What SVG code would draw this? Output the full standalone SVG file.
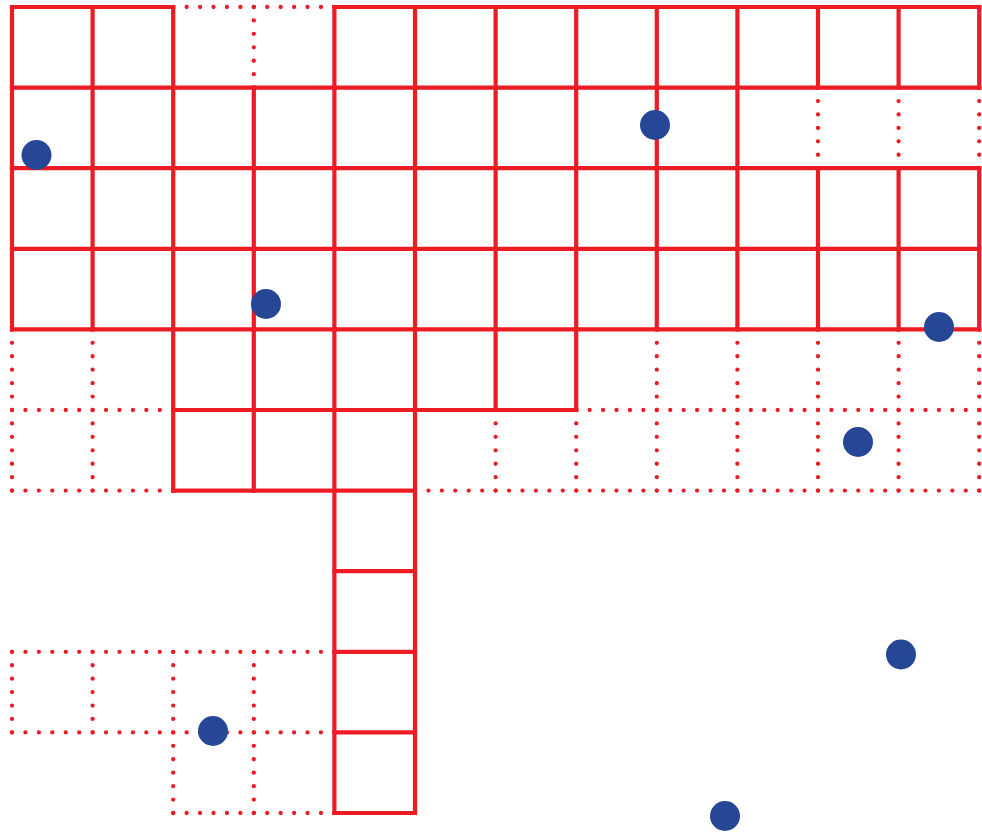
<svg xmlns="http://www.w3.org/2000/svg" width="982" height="832" viewBox="0 0 982 832">
<style>
.s{stroke:#ED1C24;stroke-width:4.2;fill:none;stroke-linecap:square}
.d{stroke:#ED1C24;stroke-width:4.3;fill:none;stroke-linecap:round;stroke-dasharray:0 13.433}
.p{fill:#264796}
</style>
<rect width="982" height="832" fill="#fff"/>
<g id="dotted-grid">
<path class="d" d="M173.2 7H334.4M12 410H173.2M576.2 410H979.2M12 490.6H173.2M415 490.6H979.2M12 651.8H334.4M12 732.4H334.4M173.2 813H334.4"/>
<path class="d" d="M12 329.4V490.6M12 651.8V732.4M92.6 329.4V490.6M92.6 651.8V732.4M173.2 651.8V813M253.8 7V87.6M253.8 651.8V813M495.6 410V490.6M576.2 410V490.6M656.8 329.4V490.6M737.4 329.4V490.6M818 329.4V490.6M898.6 329.4V490.6M979.2 329.4V490.6M818 87.6V168.2M898.6 87.6V168.2M979.2 87.6V168.2"/>
</g>
<g id="solid-grid">
<path class="s" d="M12 7H173.2M334.4 7H979.2M12 87.6H979.2M12 168.2H979.2M12 248.8H979.2M12 329.4H979.2M173.2 410H576.2M173.2 490.6H415M334.4 571.2H415M334.4 651.8H415M334.4 732.4H415M334.4 813H415"/>
<path class="s" d="M12 7V329.4M92.6 7V329.4M173.2 7V490.6M253.8 87.6V490.6M334.4 7V813M415 7V813M495.6 7V410M576.2 7V410M656.8 7V329.4M737.4 7V329.4M818 7V87.6M818 168.2V329.4M898.6 7V87.6M898.6 168.2V329.4M979.2 7V87.6M979.2 168.2V329.4"/>
</g>
<g id="points">
<circle id="p1" class="p" cx="36.5" cy="155" r="15"/>
<circle id="p2" class="p" cx="655" cy="125" r="15"/>
<circle id="p3" class="p" cx="266" cy="304" r="15"/>
<circle id="p4" class="p" cx="939" cy="327" r="15"/>
<circle id="p5" class="p" cx="858" cy="442" r="15"/>
<circle id="p6" class="p" cx="901" cy="654.5" r="15"/>
<circle id="p7" class="p" cx="213" cy="731" r="15"/>
<circle id="p8" class="p" cx="725" cy="816" r="15"/>
</g>
</svg>
